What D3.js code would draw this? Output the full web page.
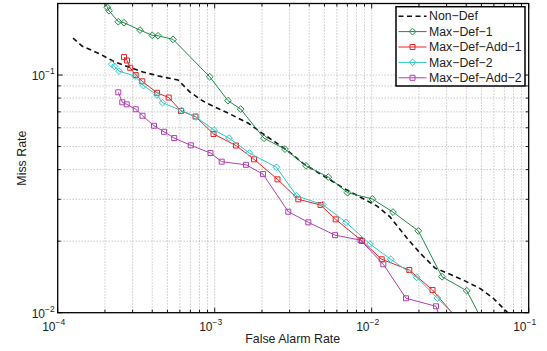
<!DOCTYPE html>
<html>
<head>
<meta charset="utf-8">
<script src="https://cdn.jsdelivr.net/npm/d3@7"></script>
<style>
body{margin:0;background:#fff;}
svg{display:block;font-family:"Liberation Sans",Arial,sans-serif;}
</style>
</head>
<body>
<svg id="chart" width="547" height="351"></svg>
<script>
// axis decades and tick labels (10^exp)
const xDecades=[1e-4,1e-3,1e-2,1e-1]
const xExp=["−4","−3","−2","−1"]
const yDecades=[1e-2,1e-1]
const yExp=["−2","−1"]
const xTitle="False Alarm Rate"
const yTitle="Miss Rate"
const seriesNames=["Non−Def","Max−Def−1","Max−Def−Add−1","Max−Def−2","Max−Def−Add−2"]

// series values (false alarm rate, miss rate)
const nonDefFar=[1.252e-4,1.428e-4,1.859e-4,2.317e-4,3.494e-4,4.686e-4,5.837e-4,6.961e-4,8.425e-4,1.004e-3,1.215e-3,1.63e-3,2.001e-3,2.422e-3,2.931e-3,3.706e-3,5.191e-3,6.565e-3,8.424e-3,1.081e-2,1.308e-2,1.678e-2,2.03e-2,2.53e-2,3.017e-2,3.815e-2,4.896e-2,5.924e-2,7.276e-2,7.83e-2]
const nonDefMiss=[0.1431,0.1324,0.1226,0.1134,0.1029,0.0981,0.0953,0.0848,0.0777,0.0733,0.0692,0.0628,0.0570,0.0523,0.0479,0.0422,0.0369,0.0335,0.0307,0.0281,0.0253,0.0206,0.01783,0.01542,0.01469,0.01373,0.01266,0.01153,0.01007,0.00932]

const maxDef1Far=[1.972e-4,2.07e-4,2.122e-4,2.432e-4,2.644e-4,3.344e-4,4.005e-4,4.354e-4,5.425e-4,9.29e-4,1.215e-3,1.464e-3,2.061e-3,2.804e-3,3.815e-3,5.291e-3,7.015e-3,1.009e-2,1.367e-2,1.981e-2,2.804e-2,4.029e-2,4.97e-2]
const maxDef1Miss=[0.211,0.1927,0.1865,0.1676,0.166,0.1546,0.1469,0.1463,0.1413,0.0984,0.078,0.0719,0.0542,0.0488,0.0415,0.0372,0.032,0.0301,0.0265,0.0221,0.01417,0.01237,0.0095]

const maxDefAdd1Far=[2.644e-4,2.763e-4,2.896e-4,3.139e-4,3.458e-4,4.29e-4,5.093e-4,6.1e-4,7.546e-4,9.826e-4,1.367e-3,1.78e-3,2.512e-3,3.408e-3,4.72e-3,5.9e-3,8.676e-3,1.158e-2,1.736e-2,2.44e-2,3.651e-2]
const maxDefAdd1Miss=[0.119,0.1151,0.1073,0.1,0.0941,0.0842,0.0804,0.0706,0.0669,0.0565,0.0505,0.0442,0.0364,0.030,0.0284,0.0247,0.02003,0.01678,0.01512,0.01246,0.00914]

const maxDef2Far=[2.211e-4,2.3e-4,2.457e-4,3.107e-4,3.52e-4,4.29e-4,4.651e-4,6.144e-4,7.602e-4,9.897e-4,1.233e-3,1.661e-3,2.475e-3,3.329e-3,4.875e-3,6.861e-3,9.754e-3,1.321e-2,1.935e-2,2.617e-2,3.651e-2]
const maxDef2Miss=[0.1112,0.1088,0.1039,0.099,0.0903,0.0824,0.0765,0.0709,0.0666,0.0587,0.0543,0.047,0.0409,0.031,0.0285,0.024,0.01945,0.01678,0.01409,0.01153,0.00927]

const maxDefAdd2Far=[2.432e-4,2.579e-4,2.751e-4,3.139e-4,3.468e-4,4.106e-4,4.755e-4,5.521e-4,7.043e-4,9.402e-4,1.108e-3,1.582e-3,2.03e-3,2.943e-3,3.947e-3,5.84e-3,8.486e-3,1.186e-2,1.654e-2,2.568e-2,2.723e-2]
const maxDefAdd2Miss=[0.0846,0.0768,0.0753,0.0718,0.0674,0.0612,0.0577,0.0543,0.0506,0.047,0.0432,0.0419,0.0383,0.0266,0.024,0.0212,0.0202,0.01598,0.0115,0.01064,0.0095]

function drawChart(){
    const svg=d3.select("#chart")
    const margin={top:3.5,right:18.3,bottom:38.3,left:57.7}
    const W=+svg.attr("width"), H=+svg.attr("height")
    const width=W-margin.left-margin.right, height=H-margin.top-margin.bottom

    const x=d3.scaleLog().domain([1e-4,1e-1]).range([0,width])
    const y=d3.scaleLog().domain([0.01,0.2]).range([height,0])

    const g=svg.append("g").attr("transform",`translate(${margin.left},${margin.top})`)

    svg.append("defs").append("clipPath").attr("id","plotclip")
       .append("rect").attr("width",width).attr("height",height)

    // minor + major tick values
    const xAll=[]
    xDecades.slice(0,-1).forEach(d=>{for(let k=1;k<10;k++) xAll.push(d*k)})
    xAll.push(1e-1)
    const yAll=[]
    for(let k=1;k<10;k++) yAll.push(0.01*k)
    yAll.push(0.1,0.2)

    // grid (dotted)
    g.append("g").selectAll("line").data(xAll.filter(v=>v>1e-4&&v<1e-1)).enter().append("line")
     .attr("x1",d=>x(d)).attr("x2",d=>x(d)).attr("y1",0).attr("y2",height)
     .attr("stroke","#9a9a9a").attr("stroke-width",0.8).attr("stroke-dasharray","1,2")
    g.append("g").selectAll("line").data(yAll.filter(v=>v>0.01&&v<0.2)).enter().append("line")
     .attr("y1",d=>y(d)).attr("y2",d=>y(d)).attr("x1",0).attr("x2",width)
     .attr("stroke","#9a9a9a").attr("stroke-width",0.8).attr("stroke-dasharray","1,2")

    // series
    const series=[
        {name:seriesNames[0],far:nonDefFar,miss:nonDefMiss,color:"#111",dash:"5,3.5",w:1.6,marker:null},
        {name:seriesNames[1],far:maxDef1Far,miss:maxDef1Miss,color:"#1e8c46",dash:null,w:1,marker:"diamond"},
        {name:seriesNames[2],far:maxDefAdd1Far,miss:maxDefAdd1Miss,color:"#f02020",dash:null,w:1,marker:"square"},
        {name:seriesNames[3],far:maxDef2Far,miss:maxDef2Miss,color:"#2cc8c8",dash:null,w:1,marker:"diamond"},
        {name:seriesNames[4],far:maxDefAdd2Far,miss:maxDefAdd2Miss,color:"#b040b0",dash:null,w:1,marker:"square"}
    ]
    const line=d3.line().x(d=>x(d[0])).y(d=>y(d[1]))
    const diamond=r=>`M0,${-r}L${r},0L0,${r}L${-r},0Z`
    const square=r=>`M${-r},${-r}H${r}V${r}H${-r}Z`
    const markerPath=m=>m=="diamond"?diamond(3.4):square(2.5)

    const plot=g.append("g").attr("clip-path","url(#plotclip)")
    series.forEach(s=>{
        const pts=s.far.map((f,i)=>[f,s.miss[i]])
        plot.append("path").datum(pts).attr("d",line).attr("fill","none")
            .attr("stroke",s.color).attr("stroke-width",s.w)
            .attr("stroke-dasharray",s.dash)
        if(s.marker){
            plot.append("g").selectAll("path").data(pts).enter().append("path")
                .attr("d",markerPath(s.marker))
                .attr("transform",d=>`translate(${x(d[0])},${y(d[1])})`)
                .attr("fill","none").attr("stroke",s.color).attr("stroke-width",1)
        }
    })

    // box + inward ticks on all sides
    g.append("rect").attr("width",width).attr("height",height).attr("fill","none")
     .attr("stroke","#000").attr("stroke-width",1.3)
    const isMajorX=v=>xDecades.some(d=>Math.abs(v/d-1)<1e-6)
    const isMajorY=v=>yDecades.some(d=>Math.abs(v/d-1)<1e-6)
    const ticks=g.append("g").attr("stroke","#000").attr("stroke-width",0.9)
    xAll.forEach(v=>{
        const L=isMajorX(v)?5:3
        ticks.append("line").attr("x1",x(v)).attr("x2",x(v)).attr("y1",height).attr("y2",height-L)
        ticks.append("line").attr("x1",x(v)).attr("x2",x(v)).attr("y1",0).attr("y2",L)
    })
    yAll.forEach(v=>{
        const L=isMajorY(v)?5:3
        ticks.append("line").attr("y1",y(v)).attr("y2",y(v)).attr("x1",0).attr("x2",L)
        ticks.append("line").attr("y1",y(v)).attr("y2",y(v)).attr("x1",width).attr("x2",width-L)
    })

    // tick labels 10^n
    xDecades.forEach((d,i)=>{
        const t=g.append("text").attr("x",x(d)-4).attr("y",height+18).attr("text-anchor","middle")
                 .attr("font-size",12).attr("fill","#222")
        t.append("tspan").text("10")
        t.append("tspan").attr("dy",-6).attr("font-size",8.5).text(xExp[i])
    })
    yDecades.forEach((d,i)=>{
        const t=g.append("text").attr("x",-3).attr("y",y(d)+5).attr("text-anchor","end")
                 .attr("font-size",12).attr("fill","#222")
        t.append("tspan").text("10")
        t.append("tspan").attr("dy",-6).attr("font-size",8.5).text(yExp[i])
    })

    // axis titles
    svg.append("text").attr("x",margin.left+width/2-0.5).attr("y",343).attr("text-anchor","middle")
       .attr("font-size",12.4).attr("fill","#222").text(xTitle)
    svg.append("text").attr("transform",`translate(26,${margin.top+height/2}) rotate(-90)`)
       .attr("text-anchor","middle").attr("font-size",12.4).attr("fill","#222").text(yTitle)

    // legend
    const lg=svg.append("g").attr("transform","translate(396,6.7)")
    lg.append("rect").attr("width",129).attr("height",79.3).attr("fill","#fff")
      .attr("stroke","#000").attr("stroke-width",1.5)
    series.forEach((s,i)=>{
        const cy=9.5+i*15.4
        lg.append("line").attr("x1",2.5).attr("x2",30.5).attr("y1",cy).attr("y2",cy)
          .attr("stroke",s.color).attr("stroke-width",s.w).attr("stroke-dasharray",s.dash)
        if(s.marker){
            lg.append("path").attr("d",markerPath(s.marker)).attr("transform",`translate(16.5,${cy})`)
              .attr("fill","none").attr("stroke",s.color)
        }
        lg.append("text").attr("x",33).attr("y",cy+4.3).attr("font-size",12.3).attr("fill","#222").text(s.name)
    })
    return
}

drawChart()
</script>
</body>
</html>
